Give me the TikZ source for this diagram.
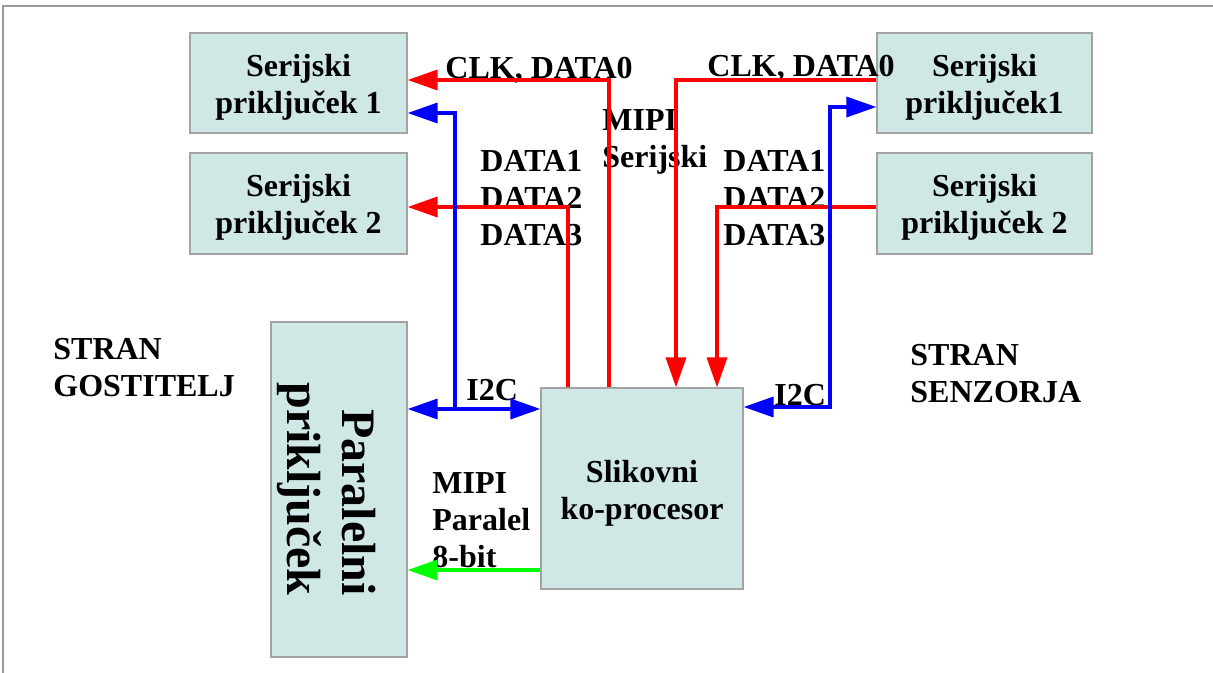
\documentclass[tikz,border=0pt]{standalone}
\usepackage{fontspec}
\setmainfont{Liberation Serif}
\usetikzlibrary{arrows.meta}

\definecolor{boxfill}{HTML}{CFE7E5}
\definecolor{boxline}{HTML}{A3A3A3}
\definecolor{framegray}{HTML}{999999}

\tikzset{
  block/.style={draw=boxline, line width=0.6pt, fill=boxfill, align=center, inner sep=0pt,
    font=\fontsize{16}{18.5}\selectfont\bfseries, text height=30.5pt, text depth=0pt},
  lbl/.style={anchor=base west, align=left, inner sep=0pt,
    font=\fontsize{16}{18.5}\selectfont\bfseries},
  wire/.style={line width=1.8pt},
  frame/.style={draw=framegray, line width=0.8pt}
}

\begin{document}
\begin{tikzpicture}[x=0.5pt,y=-0.5pt,>={Triangle[length=15pt,width=10pt]}]
      \useasboundingbox (0,0) rectangle (1213,673);
      \draw[frame] (3,673) -- (3,6) -- (1213,6);

      % blocks
      \node[block, minimum width=108.5pt, minimum height=50pt] (ser1L) at (298.5,83) {Serijski\\priključek 1};
      \node[block, minimum width=108.5pt, minimum height=50.5pt] (ser2L) at (298.5,203.5) {Serijski\\priključek 2};
      \node[block, minimum width=107.5pt, minimum height=50pt] (ser1R) at (984.5,83) {Serijski\\priključek1};
      \node[block, minimum width=107.5pt, minimum height=50.5pt] (ser2R) at (984.5,203.5) {Serijski\\priključek 2};
      \node[block, minimum width=68pt, minimum height=167.5pt] (par) at (339,489.5) {};
      \node[rotate=-90, align=right, inner sep=0pt, font=\fontsize{24}{27.5}\selectfont\bfseries] (parText) at (327,489) {Paralelni\\priključek};
      \node[block, minimum width=101pt, minimum height=100.5pt] (cop) at (642,488.5) {Slikovni\\ko-procesor};

      % labels (base = last line)
      \node[lbl] (clkL-lbl) at (445,79) {CLK, DATA0};
      \node[lbl] (mipiSer) at (602,168) {MIPI\\Serijski};
      \node[lbl] (datL-lbl) at (480,246) {DATA1\\DATA2\\DATA3};
      \node[lbl] (clkR-lbl) at (707,77) {CLK, DATA0};
      \node[lbl] (datR-lbl) at (723,246) {DATA1\\DATA2\\DATA3};
      \node[lbl] (host) at (53,396) {STRAN\\GOSTITELJ};
      \node[lbl] (sensor) at (910,402) {STRAN\\SENZORJA};
      \node[lbl] (i2cL-lbl) at (466,400) {I2C};
      \node[lbl] (i2cR-lbl) at (774,405) {I2C};
      \node[lbl] (mipiPar) at (432,567) {MIPI\\Paralel\\8-bit};

      % bends
      \coordinate (clkL) at (609,80);
      \coordinate (datL) at (568,207);
      \coordinate (i2cLtop) at (455,113);
      \coordinate (i2cLbot) at (455,409);
      \coordinate (clkR) at (676,80);
      \coordinate (datR) at (717,207);
      \coordinate (i2cRtop) at (830,107);
      \coordinate (i2cRbot) at (830,407);
      \coordinate (par8) at (0,570);

      \draw[wire,red,->] (cop.north -| clkL) -- (clkL) -- (ser1L.east |- clkL);
      \draw[wire,red,->] (cop.north -| datL) -- (datL) -- (ser2L.east |- datL);
      \draw[wire,blue,->] (i2cLbot) -- (i2cLtop) -- (ser1L.east |- i2cLtop);
      \draw[wire,blue,<->] (par.east |- i2cLbot) -- (cop.west |- i2cLbot);
      \draw[wire,red,->] (ser1R.west |- clkR) -- (clkR) -- (cop.north -| clkR);
      \draw[wire,red,->] (ser2R.west |- datR) -- (datR) -- (cop.north -| datR);
      \draw[wire,blue,<->] (cop.east |- i2cRbot) -- (i2cRbot) -- (i2cRtop) -- (ser1R.west |- i2cRtop);
      \draw[wire,green,->] (cop.west |- par8) -- (par.east |- par8);
    \end{tikzpicture}
\end{document}
